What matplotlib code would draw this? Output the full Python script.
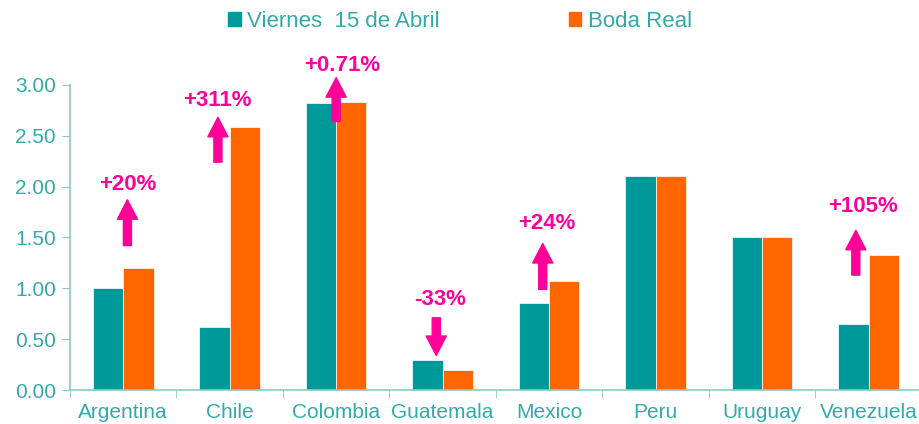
import numpy as np
import matplotlib
matplotlib.use("Agg")
import matplotlib.pyplot as plt
from matplotlib.patches import Patch

plt.rcParams['font.family'] = ['Liberation Sans', 'DejaVu Sans']

# Données
paises = ["Argentina", "Chile", "Colombia", "Guatemala", "Mexico", "Peru", "Uruguay", "Venezuela"]
viernes = [1.00, 0.62, 2.82, 0.30, 0.86, 2.10, 1.50, 0.65]
boda = [1.20, 2.59, 2.83, 0.20, 1.07, 2.10, 1.50, 1.33]
series = ["Viernes  15 de Abril", "Boda Real"]
yticks = [0.0, 0.5, 1.0, 1.5, 2.0, 2.5, 3.0]

# Anotaciones (posición x, y inicio, y fin de la flecha, texto x, texto y)
etiquetas = ["+20%", "+311%", "+0.71%", "-33%", "+24%", "+105%"]
flecha_x = [0.04, 0.89, 2.00, 2.94, 3.94, 6.88]
flecha_y0 = [1.42, 2.24, 2.64, 0.71, 0.99, 1.13]
flecha_y1 = [1.87, 2.68, 3.07, 0.34, 1.44, 1.57]
texto_x = [0.04, 0.88, 2.06, 2.98, 3.98, 6.95]
texto_y = [2.02, 2.85, 3.19, 0.89, 1.64, 1.80]

teal = "#009999"
orange = "#FF6600"
magenta = "#FF0099"
txt = "#33AAAA"
axis_col = "#8CC8C8"

fig = plt.figure(figsize=(9.2, 4.24), dpi=100)
ax = fig.add_axes([0.076, 0.080, 0.926, 0.720])

x = np.arange(len(paises))
w = 0.285
ax.bar(x - w / 2, viernes, width=w, color=teal, edgecolor="white", linewidth=0.5)
ax.bar(x + w / 2, boda, width=w, color=orange, edgecolor="white", linewidth=0.5)

ax.set_xlim(-0.5, len(paises) - 0.5)
ax.set_ylim(0, 3.0)
ax.set_yticks(yticks)
ax.set_yticklabels([f"{v:.2f}" for v in yticks])
ax.set_xticks(x)
ax.set_xticklabels(paises)
ax.set_xticks(np.arange(len(paises)) - 0.5, minor=True)

ax.tick_params(axis="y", colors=axis_col, labelcolor=txt, labelsize=15, length=6, direction="out", pad=4)
ax.tick_params(axis="x", which="major", length=0, labelcolor=txt, labelsize=15, pad=9)
ax.tick_params(axis="x", which="minor", length=6, color=axis_col, direction="out")

for s in ["top", "right"]:
    ax.spines[s].set_visible(False)
for s in ["left", "bottom"]:
    ax.spines[s].set_color(axis_col)
    ax.spines[s].set_linewidth(1.2)

# Flechas y porcentajes
for lab, fx, y0, y1, tx, ty in zip(etiquetas, flecha_x, flecha_y0, flecha_y1, texto_x, texto_y):
    ax.annotate("", xy=(fx, y1), xytext=(fx, y0),
                arrowprops=dict(arrowstyle="simple,head_length=1.4,head_width=1.45,tail_width=0.58",
                                color=magenta, shrinkA=0, shrinkB=0, mutation_scale=10),
                annotation_clip=False)
    ax.text(tx, ty, lab, color=magenta, fontsize=16, fontweight="bold",
            ha="center", va="center", clip_on=False)

# Leyenda
handles = [Patch(color=teal), Patch(color=orange)]
fig.legend(handles, series, loc="center", bbox_to_anchor=(0.5, 0.950), ncol=2,
           frameon=False, fontsize=16, labelcolor=txt, handlelength=0.55, handleheight=0.55,
           handletextpad=0.3, columnspacing=5.8)

fig.savefig("out.png", dpi=100)
